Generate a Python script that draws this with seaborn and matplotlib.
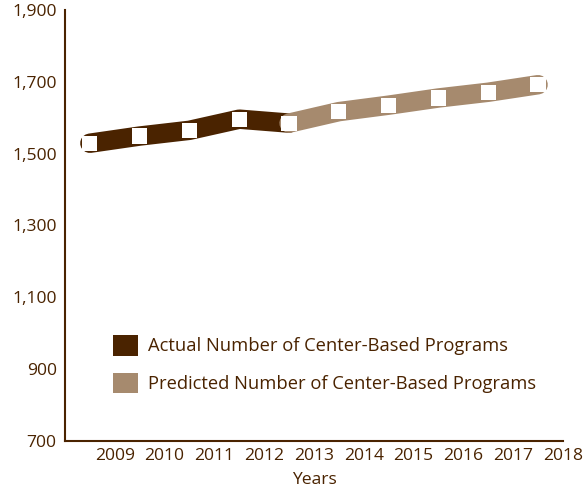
import matplotlib
matplotlib.use("Agg")
import matplotlib.pyplot as plt
from matplotlib.patches import Patch
import pandas as pd
import seaborn as sns

# values
years_actual = [2009, 2010, 2011, 2012, 2013]
actual_programs = [1529, 1549, 1565, 1596, 1585]
years_predicted = [2013, 2014, 2015, 2016, 2017, 2018]
predicted_programs = [1585, 1617, 1635, 1655, 1671, 1692]
tick_years = [2009, 2010, 2011, 2012, 2013, 2014, 2015, 2016, 2017, 2018]
y_ticks = [700, 900, 1100, 1300, 1500, 1700, 1900]

DARK = "#4a2300"
LIGHT = "#a68a6e"
TEXT = "#4a2300"

sns.set_style("white")
plt.rcParams["font.family"] = ["Open Sans", "DejaVu Sans"]
plt.rcParams["font.weight"] = 500

# each year's point sits half a year before its label tick
actual = pd.DataFrame({"x": [y - 0.5 for y in years_actual], "value": actual_programs})
predicted = pd.DataFrame({"x": [y - 0.5 for y in years_predicted], "value": predicted_programs})

fig = plt.figure(figsize=(5.87, 4.92), dpi=100)
ax = fig.add_axes([0.1107, 0.1037, 0.8484, 0.876])

sns.lineplot(data=actual, x="x", y="value", ax=ax, color=DARK, linewidth=14,
             solid_capstyle="round", solid_joinstyle="round", zorder=2)
sns.lineplot(data=predicted, x="x", y="value", ax=ax, color=LIGHT, linewidth=14,
             solid_capstyle="round", solid_joinstyle="round", zorder=3)
both = pd.concat([actual, predicted.iloc[1:]])
sns.scatterplot(data=both, x="x", y="value", ax=ax, marker="s", s=120,
                color="white", edgecolor="none", zorder=4, legend=False)

ax.set_xlim(2008, 2018)
ax.set_ylim(700, 1900)
ax.set_xticks(tick_years)
ax.set_xticklabels([str(y) for y in tick_years])
ax.set_yticks(y_ticks)
ax.set_yticklabels([f"{v:,}" for v in y_ticks])

for side in ("top", "right"):
    ax.spines[side].set_visible(False)
for side in ("left", "bottom"):
    ax.spines[side].set_color(DARK)
    ax.spines[side].set_linewidth(1.5)

ax.tick_params(axis="both", direction="in", length=7, width=1.5, color=DARK,
               labelsize=12.6, labelcolor=TEXT)
ax.tick_params(axis="y", pad=6)
ax.tick_params(axis="x", pad=5)
ax.set_xlabel("Years", fontsize=12.6, color=TEXT, labelpad=6)
ax.set_ylabel("")

handles = [Patch(facecolor=DARK, edgecolor="none"), Patch(facecolor=LIGHT, edgecolor="none")]
labels = ["Actual Number of Center-Based Programs", "Predicted Number of Center-Based Programs"]
ax.legend(handles, labels, loc="upper left", bbox_to_anchor=(0.096, 0.246), frameon=False,
          fontsize=13.2, labelcolor=TEXT, handlelength=1.36, handleheight=1.36,
          handletextpad=0.55, labelspacing=0.92, borderpad=0, borderaxespad=0)

fig.savefig("out.png", dpi=100)
